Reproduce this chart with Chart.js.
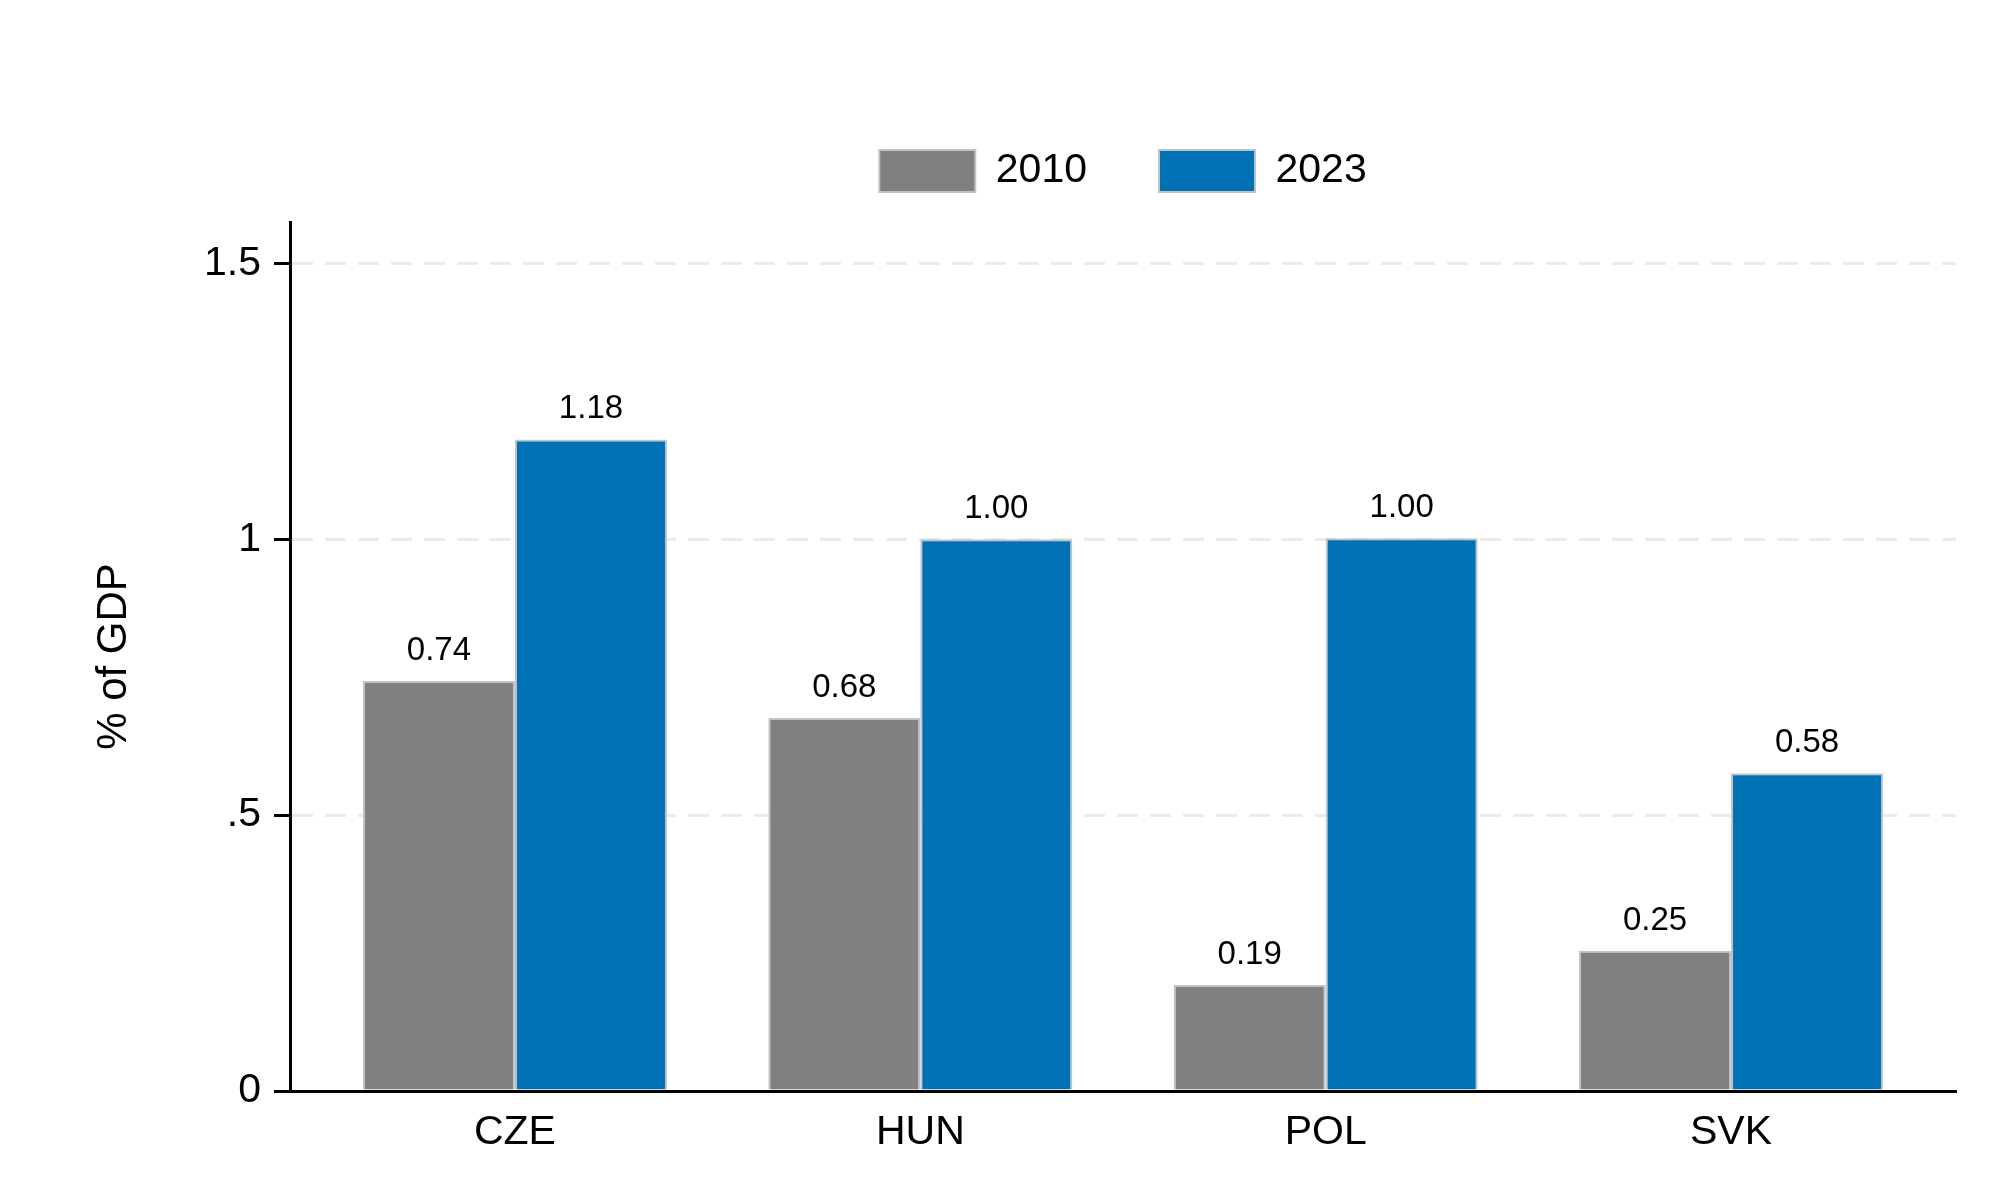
<!DOCTYPE html>
<html>
<head>
<meta charset="utf-8">
<script src="https://cdn.jsdelivr.net/npm/chart.js@4.4.1/dist/chart.umd.min.js"></script>
<style>
  html, body { margin: 0; padding: 0; background: #fff; }
  canvas { display: block; }
</style>
</head>
<body>
<canvas id="chartGdp" width="2000" height="1200"></canvas>
<script>
// DATA
const countries = ['CZE', 'HUN', 'POL', 'SVK'];
const years = ['2010', '2023'];
const values2010 = [0.743, 0.676, 0.192, 0.254];
const values2023 = [1.181, 1.0, 1.002, 0.576];
const yTicks = [0, 0.5, 1, 1.5];
const yTickLabels = ['0', '.5', '1', '1.5'];

const FONT = "'Liberation Sans', Arial, sans-serif";

// value labels above each bar
const barLabels = {
  id: 'barLabels',
  afterDatasetsDraw(chart) {
    const ctx = chart.ctx;
    ctx.save();
    ctx.font = '33px ' + FONT;
    ctx.fillStyle = '#000';
    ctx.textAlign = 'center';
    ctx.textBaseline = 'alphabetic';
    chart.data.datasets.forEach((ds, i) => {
      const meta = chart.getDatasetMeta(i);
      meta.data.forEach((bar, j) => {
        ctx.fillText(ds.data[j].y.toFixed(2), bar.x, bar.y - 21);
      });
    });
    ctx.restore();
  }
};

// extra space between legend and plot
const legendGap = {
  id: 'legendGap',
  beforeLayout(chart) {
    const lg = chart.legend;
    if (lg && !lg._gapSet) {
      const fit = lg.fit.bind(lg);
      lg.fit = function() { fit(); this.height += 20; };
      lg._gapSet = true;
    }
  }
};

function toPoints(values) {
  return values.map((v, i) => ({ x: i, y: v }));
}

new Chart(document.getElementById('chartGdp'), {
  type: 'bar',
  data: {
    datasets: [{
      label: years[0],
      data: toPoints(values2010),
      backgroundColor: '#808080',
      borderColor: '#bfc3c7',
      borderWidth: 2,
      categoryPercentage: 0.75,
      barPercentage: 1
    }, {
      label: years[1],
      data: toPoints(values2023),
      backgroundColor: '#0071b2',
      borderColor: '#bfc3c7',
      borderWidth: 2,
      categoryPercentage: 0.75,
      barPercentage: 1
    }]
  },
  options: {
    responsive: false,
    devicePixelRatio: 1,
    animation: false,
    layout: { padding: { top: 78, right: 44, bottom: 0, left: 0 } },
    plugins: {
      legend: {
        position: 'top',
        fullSize: false,
        labels: {
          boxWidth: 96,
          boxHeight: 42,
          padding: 72,
          color: '#000',
          font: { family: FONT, size: 41 }
        }
      },
      tooltip: { enabled: false }
    },
    scales: {
      x: {
        type: 'linear',
        offset: false,
        min: -0.555,
        max: 3.555,
        afterBuildTicks: function(scale) {
          scale.ticks = countries.map((c, i) => ({ value: i }));
        },
        afterFit: function(scale) { scale.height = 109; },
        grid: { display: false, drawTicks: false },
        border: { display: true, color: '#000', width: 3 },
        ticks: {
          padding: 17,
          color: '#000',
          font: { family: FONT, size: 41 },
          callback: function(value) { return countries[value]; }
        }
      },
      y: {
        min: 0,
        max: 1.575,
        afterBuildTicks: function(scale) {
          scale.ticks = yTicks.map(v => ({ value: v }));
        },
        afterFit: function(scale) { scale.width = 290; },
        grid: {
          color: '#ebebeb',
          lineWidth: 3,
          tickLength: 16,
          tickColor: '#000',
          tickWidth: 3,
          tickBorderDash: []
        },
        border: { display: true, color: '#000', width: 3, dash: [21, 12] },
        ticks: {
          padding: 13,
          color: '#000',
          font: { family: FONT, size: 41 },
          callback: function(value, index) { return yTickLabels[index]; }
        },
        title: {
          display: true,
          text: '% of GDP',
          color: '#000',
          font: { family: FONT, size: 42 },
          padding: { top: 89, bottom: 0 }
        }
      }
    }
  },
  plugins: [barLabels, legendGap]
});
</script>
</body>
</html>
